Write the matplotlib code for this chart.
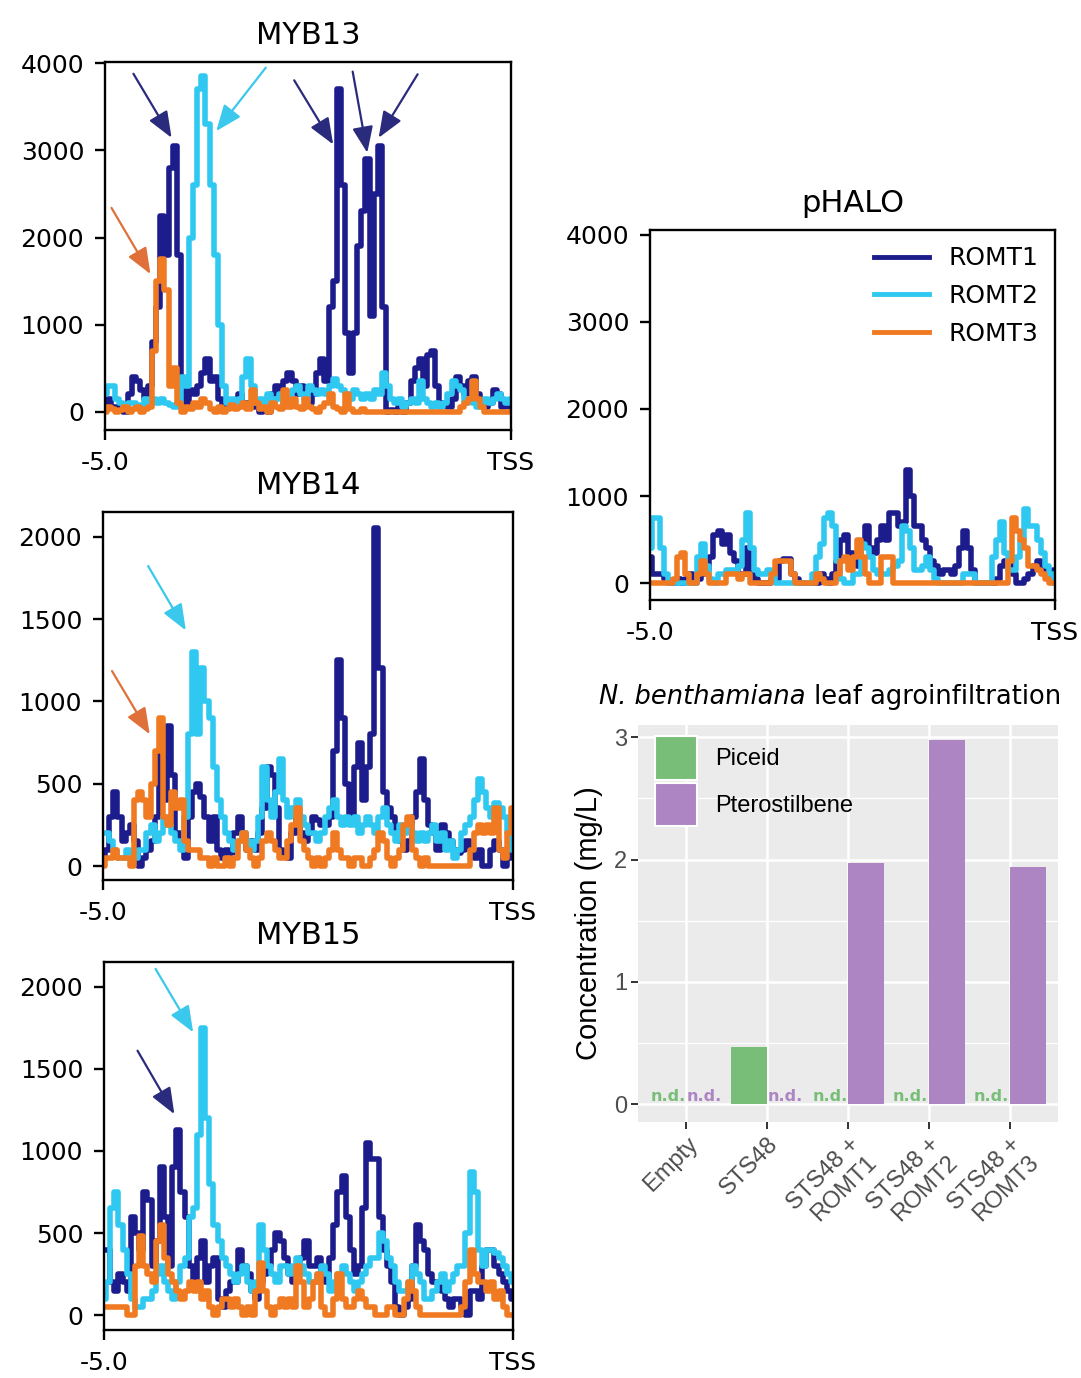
import numpy as np
import matplotlib
matplotlib.use("Agg")
import matplotlib.pyplot as plt
from matplotlib.patches import Patch

# ---------------------------------------------------------------
# Binding profiles from -5 kb to the TSS (100 bins per promoter)
# ---------------------------------------------------------------
myb13_romt1 = [100, 150, 50, 50, 20, 0, 200, 400, 350, 250,
               150, 300, 800, 1200, 2250, 1800, 2800, 3050, 1800, 300,
               100, 250, 200, 300, 450, 600, 350, 400, 150, 50,
               80, 50, 100, 200, 100, 100, 50, 100, 0, 50,
               0, 200, 300, 200, 350, 450, 350, 200, 300, 250,
               100, 200, 450, 600, 350, 1200, 1500, 3700, 2600, 900,
               450, 900, 1900, 2300, 2900, 1100, 2500, 3050, 1200, 0,
               20, 0, 50, 0, 100, 350, 500, 600, 300, 650,
               700, 300, 100, 80, 50, 150, 400, 300, 200, 350,
               400, 200, 100, 50, 100, 250, 200, 50, 100, 50]
myb13_romt2 = [200, 300, 300, 150, 100, 50, 100, 100, 50, 80,
               150, 100, 150, 100, 150, 100, 80, 50, 100, 400,
               300, 2000, 2600, 3700, 3850, 3300, 2600, 1800, 1000, 300,
               100, 150, 100, 150, 400, 600, 300, 100, 150, 100,
               200, 100, 150, 200, 100, 150, 250, 300, 200, 150,
               300, 250, 200, 250, 200, 300, 380, 300, 250, 200,
               150, 250, 200, 150, 200, 150, 250, 200, 450, 300,
               150, 100, 150, 50, 100, 150, 100, 350, 150, 100,
               50, 100, 50, 100, 200, 350, 300, 250, 100, 150,
               100, 50, 100, 150, 100, 150, 200, 150, 100, 150]
myb13_romt3 = [0, 50, 30, 0, 20, 50, 0, 30, 50, 0,
               30, 50, 700, 1500, 1750, 1400, 300, 500, 100, 0,
               50, 30, 100, 50, 150, 100, 30, 0, 50, 0,
               30, 80, 30, 50, 100, 30, 250, 100, 30, 50,
               0, 100, 50, 30, 250, 50, 150, 50, 30, 150,
               50, 30, 0, 50, 100, 200, 50, 30, 0, 200,
               30, 0, 0, 30, 0, 0, 0, 0, 0, 0,
               0, 0, 0, 0, 0, 0, 0, 0, 0, 0,
               0, 0, 0, 0, 0, 0, 0, 50, 100, 150,
               350, 150, 50, 0, 0, 0, 0, 0, 0, 0]

myb14_romt1 = [50, 100, 300, 450, 300, 150, 200, 250, 150, 0,
               50, 100, 150, 300, 700, 400, 850, 550, 200, 150,
               50, 300, 450, 500, 420, 300, 150, 300, 100, 50,
               100, 80, 200, 300, 200, 100, 150, 100, 200, 350,
               600, 550, 350, 100, 80, 50, 200, 300, 200, 150,
               200, 300, 280, 250, 250, 300, 700, 1250, 900, 500,
               300, 600, 750, 400, 600, 800, 2050, 1200, 450, 350,
               300, 200, 150, 100, 150, 300, 450, 650, 400, 250,
               200, 100, 250, 200, 150, 100, 80, 100, 150, 100,
               50, 100, 0, 0, 100, 150, 100, 0, 50, 100]
myb14_romt2 = [200, 200, 150, 100, 50, 50, 100, 80, 50, 100,
               100, 200, 250, 150, 200, 300, 250, 200, 150, 100,
               300, 800, 1300, 800, 1200, 1000, 900, 600, 400, 300,
               200, 150, 100, 150, 200, 150, 100, 150, 300, 600,
               400, 300, 450, 650, 400, 300, 350, 400, 300, 250,
               200, 200, 150, 200, 300, 350, 400, 300, 250, 300,
               250, 300, 200, 250, 300, 250, 200, 300, 350, 250,
               200, 150, 250, 200, 250, 200, 150, 200, 150, 200,
               250, 150, 200, 100, 150, 50, 100, 200, 250, 300,
               400, 530, 450, 350, 300, 380, 350, 300, 200, 100]
myb14_romt3 = [0, 50, 50, 100, 50, 50, 50, 0, 400, 450,
               400, 300, 500, 700, 900, 300, 250, 450, 350, 400,
               150, 100, 100, 100, 50, 50, 0, 50, 0, 0,
               50, 0, 50, 150, 200, 100, 50, 0, 50, 150,
               200, 150, 100, 50, 50, 150, 250, 350, 150, 100,
               50, 0, 50, 0, 50, 100, 200, 100, 50, 50,
               0, 50, 50, 0, 0, 50, 100, 200, 150, 50,
               0, 50, 100, 250, 300, 100, 50, 0, 50, 0,
               0, 0, 0, 0, 0, 0, 0, 0, 0, 100,
               200, 250, 200, 250, 200, 350, 100, 50, 200, 350]

myb15_romt1 = [400, 400, 200, 150, 250, 200, 150, 600, 500, 400,
               750, 700, 300, 450, 900, 600, 300, 900, 1130, 750,
               600, 300, 200, 350, 450, 200, 300, 350, 100, 50,
               150, 200, 200, 400, 300, 250, 150, 100, 200, 250,
               300, 400, 500, 450, 350, 250, 200, 300, 350, 450,
               300, 300, 350, 250, 200, 350, 550, 750, 850, 600,
               400, 250, 300, 650, 1050, 950, 950, 600, 400, 300,
               200, 50, 0, 50, 100, 300, 550, 450, 400, 250,
               200, 200, 150, 100, 50, 100, 100, 50, 0, 150,
               150, 100, 300, 400, 400, 300, 250, 200, 150, 100]
myb15_romt2 = [100, 200, 650, 750, 550, 400, 250, 100, 50, 50,
               100, 100, 150, 250, 300, 200, 150, 100, 200, 300,
               350, 600, 650, 1100, 1750, 1200, 800, 550, 450, 350,
               300, 250, 200, 250, 300, 200, 150, 200, 550, 400,
               300, 250, 200, 300, 300, 250, 300, 350, 300, 250,
               200, 200, 250, 300, 250, 150, 200, 250, 300, 250,
               200, 150, 200, 250, 300, 350, 350, 500, 450, 350,
               300, 200, 150, 150, 200, 300, 250, 200, 100, 100,
               150, 200, 250, 150, 200, 250, 300, 300, 500, 870,
               750, 400, 300, 400, 400, 380, 350, 300, 250, 200]
myb15_romt3 = [50, 50, 50, 50, 50, 50, 0, 0, 300, 480,
               300, 250, 200, 450, 550, 350, 250, 200, 150, 100,
               150, 200, 150, 200, 100, 150, 50, 0, 50, 100,
               100, 50, 100, 50, 0, 50, 0, 150, 320, 150,
               50, 0, 50, 100, 50, 100, 50, 300, 200, 50,
               100, 200, 250, 50, 0, 0, 100, 250, 100, 50,
               50, 100, 150, 100, 50, 50, 0, 0, 0, 50,
               50, 0, 0, 100, 200, 150, 50, 0, 0, 0,
               0, 0, 0, 0, 0, 0, 0, 50, 200, 400,
               250, 200, 200, 150, 200, 100, 150, 50, 0, 0]

phalo_romt1 = [300, 100, 100, 100, 50, 0, 0, 50, 0, 50,
               100, 0, 50, 100, 150, 300, 550, 600, 450, 550,
               350, 250, 100, 100, 400, 150, 50, 0, 0, 0,
               50, 50, 250, 280, 280, 100, 50, 0, 0, 0,
               0, 0, 100, 50, 0, 100, 250, 500, 550, 350,
               300, 200, 450, 650, 400, 350, 500, 650, 500, 800,
               800, 650, 700, 1300, 1000, 650, 650, 500, 400, 250,
               200, 100, 150, 150, 100, 200, 400, 600, 400, 150,
               0, 0, 0, 0, 0, 50, 200, 250, 250, 100,
               0, 0, 50, 100, 200, 250, 200, 150, 100, 150]
phalo_romt2 = [400, 750, 750, 400, 100, 0, 0, 0, 0, 0,
               0, 0, 300, 450, 200, 50, 0, 100, 100, 150,
               150, 150, 200, 500, 800, 400, 150, 100, 100, 150,
               100, 0, 0, 0, 0, 0, 0, 0, 0, 0,
               100, 300, 450, 750, 800, 650, 250, 50, 0, 0,
               100, 100, 450, 400, 300, 150, 100, 100, 100, 150,
               200, 250, 650, 600, 400, 150, 150, 200, 300, 150,
               50, 0, 0, 0, 0, 0, 0, 100, 100, 100,
               0, 0, 0, 0, 300, 500, 700, 350, 150, 150,
               300, 500, 850, 650, 650, 500, 350, 200, 100, 0]
phalo_romt3 = [0, 0, 0, 0, 0, 0, 50, 300, 350, 100,
               0, 0, 100, 250, 100, 0, 0, 0, 0, 100,
               100, 100, 50, 100, 100, 0, 0, 0, 0, 0,
               100, 250, 250, 250, 250, 100, 0, 0, 0, 0,
               0, 100, 50, 0, 0, 0, 100, 250, 300, 150,
               300, 500, 300, 100, 0, 0, 0, 300, 300, 300,
               0, 0, 0, 0, 0, 0, 0, 0, 0, 0,
               0, 0, 0, 0, 0, 0, 0, 0, 0, 0,
               0, 0, 0, 0, 0, 0, 0, 0, 250, 750,
               600, 500, 400, 200, 200, 150, 100, 50, 0, 0]

series_names = ["ROMT1", "ROMT2", "ROMT3"]
xtick_labels = ["-5.0", "TSS"]

# ---------------------------------------------------------------
# Metabolite levels after leaf agroinfiltration (NaN = not detected)
# ---------------------------------------------------------------
constructs = ["Empty", "STS48", "STS48 +\nROMT1", "STS48 +\nROMT2", "STS48 +\nROMT3"]
piceid = [np.nan, 0.47, np.nan, np.nan, np.nan]
pterostilbene = [np.nan, np.nan, 1.97, 2.98, 1.94]

# ---------------------------------------------------------------
W, H = 1081, 1378
fig = plt.figure(figsize=(W / 100, H / 100), dpi=100)
fig.patch.set_facecolor("white")

C_NAVY = "#1c1c8c"
C_CYAN = "#2fc8f0"
C_ORANGE = "#f07a22"
line_colors = [C_NAVY, C_CYAN, C_ORANGE]
arrow_cols = {"n": "#2b2b7e", "c": "#3ac8ec", "o": "#e0703a"}

pos = np.linspace(-5.0, 0.0, len(myb13_romt1))


def px_axes(left, top, right, bottom):
    return fig.add_axes([left / W, 1 - bottom / H, (right - left) / W, (bottom - top) / H])


def track(ax, title, profiles, ylim, yticks, arrows, legend=False):
    for vals, col, name in zip(profiles, line_colors, series_names):
        ax.plot(pos, vals, color=col, lw=4.0, drawstyle="steps-mid",
                solid_joinstyle="round", label=name)
    ax.set_xlim(-5.0, 0.0)
    ax.set_ylim(*ylim)
    ax.set_xticks([-5.0, 0.0])
    ax.set_xticklabels(xtick_labels)
    ax.set_yticks(yticks)
    ax.set_title(title, fontsize=22, pad=13)
    for s in ax.spines.values():
        s.set_linewidth(1.7)
    ax.tick_params(length=7, width=1.7, labelsize=18, pad=8)
    for tx, ty, hx, hy, c in arrows:
        ax.annotate("", xy=(hx, hy), xytext=(tx, ty),
                    arrowprops=dict(arrowstyle="-|>,head_length=0.8,head_width=0.32",
                                    color=arrow_cols[c], lw=1.6, shrinkA=0, shrinkB=0,
                                    mutation_scale=20),
                    annotation_clip=False)
    if legend:
        leg = ax.legend(loc="upper right", frameon=False, fontsize=18, handlelength=2.2,
                        labelspacing=0.55, handletextpad=0.8, borderaxespad=0.25)
        for ln in leg.get_lines():
            ln.set_linewidth(3.5)


ax13 = px_axes(105, 62, 511, 430)
track(ax13, "MYB13", [myb13_romt1, myb13_romt2, myb13_romt3], (-210, 4015),
      [0, 1000, 2000, 3000, 4000],
      [(-4.65, 3880, -4.18, 3145, "n"), (-3.02, 3950, -3.63, 3222, "c"),
       (-4.92, 2340, -4.44, 1580, "o"), (-2.67, 3805, -2.19, 3069, "n"),
       (-1.95, 3905, -1.77, 2973, "n"), (-1.15, 3874, -1.63, 3145, "n")])

ax14 = px_axes(103, 512, 513, 880)
track(ax14, "MYB14", [myb14_romt1, myb14_romt2, myb14_romt3], (-85, 2150),
      [0, 500, 1000, 1500, 2000],
      [(-4.45, 1822, -3.99, 1431, "c"), (-4.89, 1184, -4.43, 800, "o")])

ax15 = px_axes(104, 962, 513, 1330)
track(ax15, "MYB15", [myb15_romt1, myb15_romt2, myb15_romt3], (-90, 2150),
      [0, 500, 1000, 1500, 2000],
      [(-4.37, 2108, -3.91, 1722, "c"), (-4.59, 1610, -4.14, 1224, "n")])

axh = px_axes(650, 230, 1055, 600)
track(axh, "pHALO", [phalo_romt1, phalo_romt2, phalo_romt3], (-195, 4057),
      [0, 1000, 2000, 3000, 4000], [], legend=True)

# ---------------------------------------------------------------
# Bar chart (ggplot-like theme)
# ---------------------------------------------------------------
GREEN = "#78be78"
PURPLE = "#ad85c3"
SANS = "Liberation Sans"

axb = px_axes(638, 725, 1058, 1122)
axb.set_facecolor("#EBEBEB")
xpos = np.arange(1, len(constructs) + 1)
bw = 0.45
for vals, off, col in [(piceid, -bw / 2, GREEN), (pterostilbene, bw / 2, PURPLE)]:
    v = np.array(vals, dtype=float)
    det = ~np.isnan(v)
    axb.bar(xpos[det] + off, v[det], width=bw, color=col, zorder=3)
    for xi in xpos[~det]:
        axb.text(xi + off, 0.065, "n.d.", color=col, fontweight="bold",
                 ha="center", va="center", fontsize=11.5, family="DejaVu Sans", zorder=4)

axb.set_xlim(0.4, 5.6)
axb.set_ylim(-0.145, 3.1)
axb.set_yticks([0, 1, 2, 3])
axb.set_yticks([0.5, 1.5, 2.5], minor=True)
axb.set_xticks(xpos)
axb.set_xticklabels(constructs, rotation=45, ha="right", va="top",
                    rotation_mode="anchor", family=SANS, fontsize=17, color="#4D4D4D",
                    multialignment="right")
for lab in axb.get_yticklabels():
    lab.set_family(SANS)
axb.tick_params(axis="both", which="major", length=5, width=1.4, color="#333333",
                labelcolor="#4D4D4D", labelsize=17, pad=3)
axb.tick_params(axis="both", which="minor", length=0)
axb.grid(which="major", color="white", lw=1.8, zorder=0)
axb.grid(which="minor", axis="y", color="white", lw=0.9, zorder=0)
axb.set_axisbelow(True)
for s in axb.spines.values():
    s.set_visible(False)
axb.set_ylabel("Concentration (mg/L)", family=SANS, fontsize=21, labelpad=8)

handles = [Patch(facecolor=GREEN, edgecolor="white", lw=1.5, label="Piceid"),
           Patch(facecolor=PURPLE, edgecolor="white", lw=1.5, label="Pterostilbene")]
leg = axb.legend(handles=handles, loc="upper left", bbox_to_anchor=(0.04, 0.972),
                 frameon=False, prop={"family": SANS, "size": 17}, handlelength=1.8,
                 handleheight=2.45, labelspacing=0.14, handletextpad=0.75,
                 borderpad=0, borderaxespad=0)

# Title with the italic species name followed by regular text
renderer = fig.canvas.get_renderer()
t_it = fig.text(0, 1 - 697 / H, "N. benthamiana", style="italic",
                ha="left", va="center", fontsize=18.5)
t_rm = fig.text(0, 1 - 697 / H, " leaf agroinfiltration",
                ha="left", va="center", fontsize=18.5)
w_it = t_it.get_window_extent(renderer).width
w_rm = t_rm.get_window_extent(renderer).width
x0 = 830 - (w_it + w_rm) / 2
t_it.set_x(x0 / W)
t_rm.set_x((x0 + w_it) / W)

fig.savefig("out.png", dpi=100, facecolor="white")
